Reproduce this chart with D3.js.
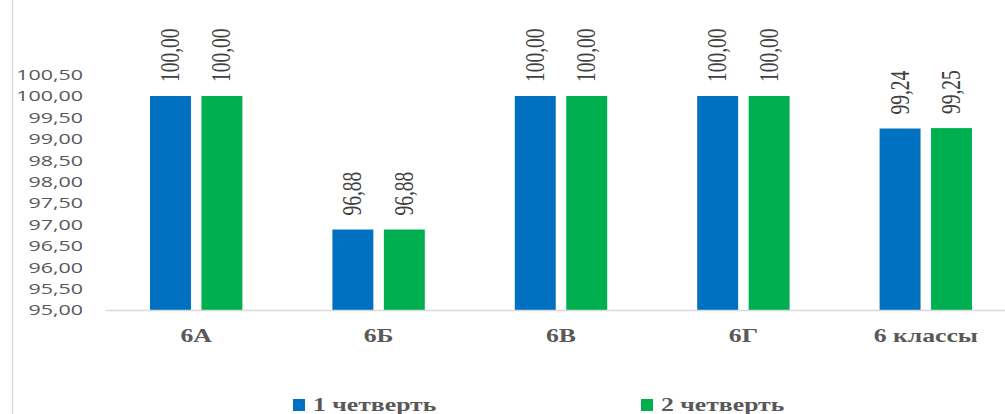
<!DOCTYPE html>
<html><head><meta charset="utf-8">
<script src="https://cdn.jsdelivr.net/npm/d3@7/dist/d3.min.js"></script>
<style>body{margin:0;background:#fff;}svg{display:block;}</style>
</head><body>
<svg id="c" width="1005" height="414"></svg>
<script>
const categories = ["6А", "6Б", "6В", "6Г", "6 классы"];
const series = ["1 четверть", "2 четверть"];
const q1 = [100.00, 96.88, 100.00, 100.00, 99.24];
const q2 = [100.00, 96.88, 100.00, 100.00, 99.25];
const yTicks = [95.0, 95.5, 96.0, 96.5, 97.0, 97.5, 98.0, 98.5, 99.0, 99.5, 100.0, 100.5];
const colors = ["#0070C0", "#00B050"];

const SX = 1.43; // horizontal stretch of the reference text
const svg = d3.select("#c");
const fmt = v => v.toFixed(2).replace(".", ",");

// left border line
svg.append("line").attr("x1", 12.5).attr("x2", 12.5).attr("y1", 0).attr("y2", 414)
  .attr("stroke", "#d9d9d9").attr("stroke-width", 1.5);

const x = d3.scaleBand().domain(categories).range([105, 1017]).paddingInner(0).paddingOuter(0);
const y = d3.scaleLinear().domain([95, 100.5]).range([310, 74.6]);
const xs = d3.scaleBand().domain(series).range([45, x.bandwidth() - 45]).paddingInner(0.204);

// y axis labels
const ya = svg.append("g").attr("transform", "translate(83,0)")
  .call(d3.axisLeft(y).tickValues(yTicks).tickFormat(fmt).tickSize(0).tickPadding(0));
ya.select(".domain").remove();
ya.selectAll(".tick text").attr("x", 0).attr("transform", `scale(${SX},1)`)
  .attr("font-family", "'Open Sans', 'Liberation Sans', sans-serif")
  .attr("font-size", 15).attr("fill", "#595959");

// bars
const data = categories.map((c, i) => ({c, vals: [q1[i], q2[i]]}));
const g = svg.append("g");
data.forEach(d => {
  d.vals.forEach((v, k) => {
    const bx = x(d.c) + xs(series[k]);
    g.append("rect").attr("x", bx).attr("y", y(v)).attr("width", xs.bandwidth())
      .attr("height", y(95) - y(v)).attr("fill", colors[k]);
    g.append("text")
      .attr("transform", `translate(${bx + xs.bandwidth() / 2 + 8.5},${y(v) - 14}) rotate(-90) scale(1,${SX})`)
      .attr("font-family", "'Liberation Serif', serif").attr("font-size", 19.5)
      .attr("fill", "#404040").text(fmt(v));
  });
});

// x axis
const xa = svg.append("g").attr("transform", "translate(0,310)")
  .call(d3.axisBottom(x).tickSize(0).tickPadding(0));
xa.select(".domain").attr("stroke", "#d9d9d9").attr("stroke-width", 1.5);
xa.selectAll(".tick text").attr("dy", 0).attr("y", 0)
  .attr("transform", `translate(0,32) scale(${SX},1)`)
  .attr("font-family", "'Liberation Serif', serif").attr("font-size", 18)
  .attr("font-weight", "bold").attr("fill", "#595959");

// legend
const legX = [293, 641];
series.forEach((s, k) => {
  svg.append("rect").attr("x", legX[k]).attr("y", 399).attr("width", 12).attr("height", 12).attr("fill", colors[k]);
  svg.append("text").attr("transform", `translate(${legX[k] + 20},411) scale(${SX},1)`)
    .attr("font-family", "'Liberation Serif', serif").attr("font-size", 18)
    .attr("font-weight", "bold").attr("fill", "#595959").text(s);
});
</script>
</body></html>
